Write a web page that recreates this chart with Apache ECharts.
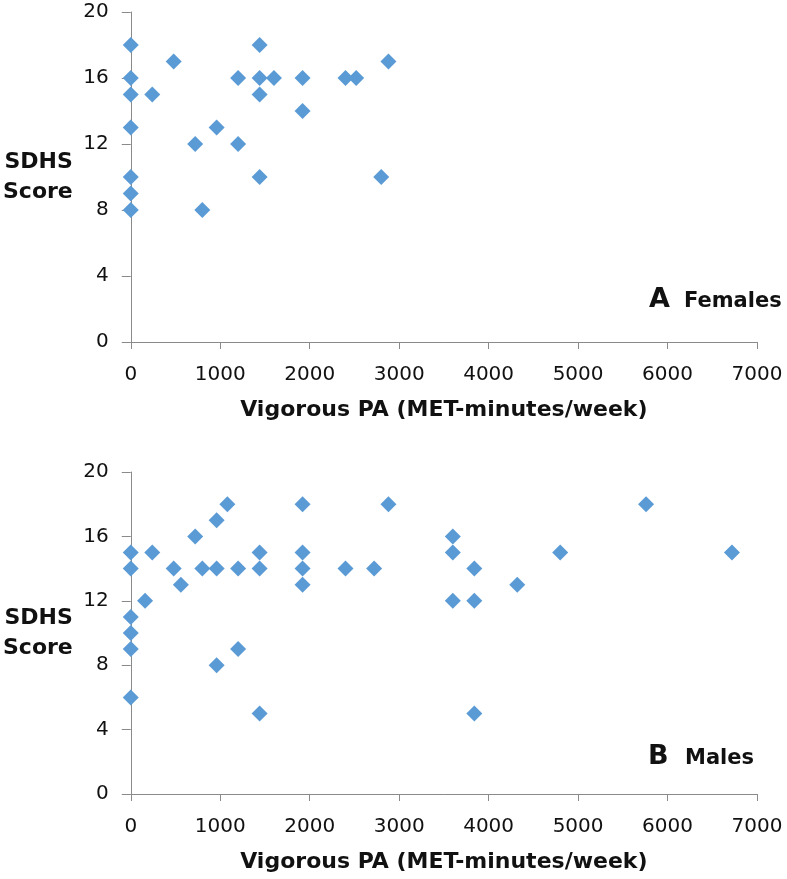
<!DOCTYPE html>
<html>
<head>
<meta charset="utf-8">
<script src="https://cdn.jsdelivr.net/npm/echarts@6/dist/echarts.min.js"></script>
<style>
html,body{margin:0;padding:0;background:#fff;}
#chart{width:787px;height:879px;}
</style>
</head>
<body>
<div id="chart"></div>
<script>
// Panel A – Females
const femalesX = [0,0,0,0,0,0,0,240,480,720,800,960,1200,1200,1440,1440,1440,1440,1600,1920,1920,2400,2520,2800,2880];
const femalesY = [18,16,15,13,10,9,8,15,17,12,8,13,16,12,18,16,15,10,16,16,14,16,16,10,17];
// Panel B – Males
const malesX = [0,0,0,0,0,0,160,240,480,560,720,800,960,960,960,1080,1200,1200,1440,1440,1440,1920,1920,1920,1920,2400,2720,2880,3600,3600,3600,3840,3840,3840,4320,4800,5760,6720];
const malesY = [15,14,11,10,9,6,12,15,14,13,16,14,17,14,8,18,14,9,15,14,5,18,15,14,13,14,14,18,16,15,12,14,12,5,13,15,18,15];

const xRange = [0, 7000, 1000];
const yRange = [0, 20, 4];
const xTitle = 'Vigorous PA (MET-minutes/week)';
const yTitle = 'SDHS\nScore';
const panelLetters = ['A', 'B'];
const panelNames = ['Females', 'Males'];

const chart = echarts.init(document.getElementById('chart'), null, {renderer: 'canvas'});
const axisColor = '#8a8a8a';
const tickFont = 'DejaVu Sans';
const boldFont = 'DejaVu Sans';

function xAxisCfg(idx) {
  return {
    type: 'value', gridIndex: idx, min: xRange[0], max: xRange[1], interval: xRange[2],
    splitLine: {show: false},
    axisLine: {show: true, onZero: false, lineStyle: {color: axisColor, width: 1}},
    axisTick: {show: true, inside: false, length: 7, lineStyle: {color: axisColor}},
    axisLabel: {color: '#111', fontFamily: tickFont, fontSize: 20, margin: 23,
                formatter: v => String(v)},
    name: xTitle, nameLocation: 'middle', nameGap: 57,
    nameTextStyle: {color: '#111', fontFamily: boldFont, fontWeight: 'bold', fontSize: 22}
  };
}
function yAxisCfg(idx) {
  return {
    type: 'value', gridIndex: idx, min: yRange[0], max: yRange[1], interval: yRange[2],
    splitLine: {show: false},
    axisLine: {show: true, onZero: false, lineStyle: {color: axisColor, width: 1}},
    axisTick: {show: true, inside: false, length: 9, lineStyle: {color: axisColor}},
    axisLabel: {color: '#111', fontFamily: tickFont, fontSize: 20, margin: 22,
                formatter: v => String(v)},
    name: yTitle, nameLocation: 'middle', nameGap: 58, nameRotate: 0,
    nameTextStyle: {color: '#111', fontFamily: boldFont, fontWeight: 'bold', fontSize: 22, lineHeight: 30, align: 'right'}
  };
}
function pairs(xs, ys) { return xs.map((x, i) => [x, ys[i]]); }

const grids = [
  {left: 130, top: 12, width: 627, height: 330},
  {left: 130, top: 472, width: 627, height: 322}
];
const annot = [
  {letterX: 649, nameX: 684, y: 302},
  {letterX: 648, nameX: 685, y: 759}
];
const graphics = [];
annot.forEach((a, i) => {
  graphics.push({type: 'text', left: a.letterX, top: a.y - 16,
    style: {text: panelLetters[i], fill: '#111', font: 'bold 27px "DejaVu Sans"'}});
  graphics.push({type: 'text', left: a.nameX, top: a.y - 11,
    style: {text: panelNames[i], fill: '#111', font: 'bold 21px "DejaVu Sans"'}});
});

chart.setOption({
  animation: false,
  backgroundColor: '#fff',
  grid: grids,
  xAxis: [xAxisCfg(0), xAxisCfg(1)],
  yAxis: [yAxisCfg(0), yAxisCfg(1)],
  graphic: graphics,
  series: [
    {type: 'scatter', xAxisIndex: 0, yAxisIndex: 0, symbol: 'diamond', symbolSize: 16,
     itemStyle: {color: '#5b9bd5', opacity: 1}, data: pairs(femalesX, femalesY)},
    {type: 'scatter', xAxisIndex: 1, yAxisIndex: 1, symbol: 'diamond', symbolSize: 16,
     itemStyle: {color: '#5b9bd5', opacity: 1}, data: pairs(malesX, malesY)}
  ]
});
</script>
</body>
</html>
